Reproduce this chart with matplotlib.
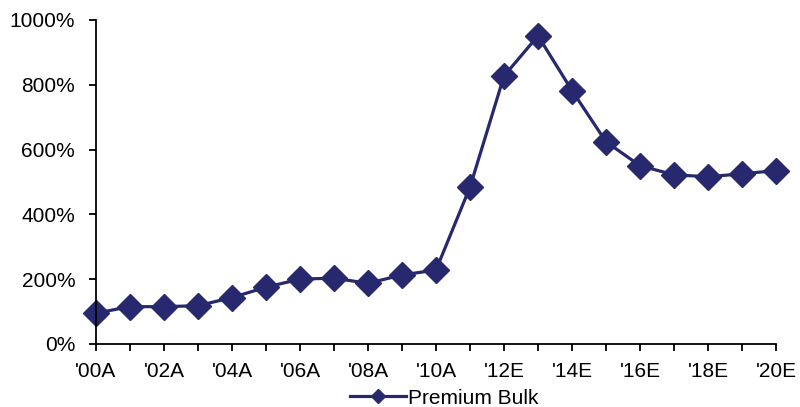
import matplotlib
matplotlib.use("Agg")
import matplotlib.pyplot as plt
from matplotlib.ticker import FuncFormatter, MultipleLocator

plt.rcParams['font.family'] = ['Liberation Sans', 'DejaVu Sans']

# yearly values, '00A .. '20E
years = ["'00A", "'01A", "'02A", "'03A", "'04A", "'05A", "'06A", "'07A", "'08A", "'09A", "'10A",
         "'11E", "'12E", "'13E", "'14E", "'15E", "'16E", "'17E", "'18E", "'19E", "'20E"]
premium_bulk = [95, 115, 115, 118, 143, 175, 200, 203, 187, 213, 228,
                484, 827, 951, 782, 624, 550, 522, 516, 525, 535]

navy = '#28286e'

fig = plt.figure(figsize=(8, 4.07), dpi=100)
ax = fig.add_axes([0.12, 0.155, 0.85, 0.796])

x = list(range(len(years)))
ax.plot(x, premium_bulk, color=navy, lw=2.3, marker='D', markersize=12.8,
        markerfacecolor=navy, markeredgecolor=navy, label='Premium Bulk', clip_on=False)

ax.set_xlim(0, len(years) - 1)
ax.set_ylim(0, 1000)
ax.yaxis.set_major_locator(MultipleLocator(200))
ax.yaxis.set_major_formatter(FuncFormatter(lambda v, p: f'{v:.0f}%'))

ax.set_xticks(x)
ax.set_xticklabels([lab if i % 2 == 0 else '' for i, lab in enumerate(years)])

for s in ['top', 'right']:
    ax.spines[s].set_visible(False)
for s in ['left', 'bottom']:
    ax.spines[s].set_linewidth(1.3)
ax.tick_params(axis='both', direction='out', length=5, width=1.3, labelsize=15)
ax.tick_params(axis='y', pad=10)
ax.tick_params(axis='x', pad=8)

fig.legend(loc='center', bbox_to_anchor=(0.555, 0.022), frameon=False, fontsize=15,
           handlelength=2.7, handletextpad=0.1, markerscale=0.55)

plt.savefig('out.png', dpi=100)
